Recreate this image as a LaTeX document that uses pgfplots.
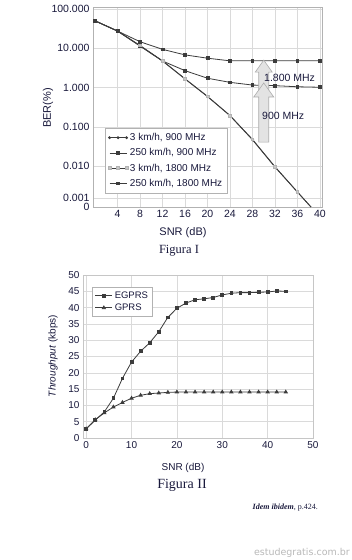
\documentclass[border=0pt]{standalone}
\usepackage{fontspec}
\setmainfont{Liberation Serif}
\setsansfont{Liberation Sans}
\newfontfamily\dejavu{DejaVu Sans}
\usepackage{pgfplots}
\pgfplotsset{compat=1.18}
\definecolor{txt}{RGB}{25,25,60}
\definecolor{ln}{RGB}{60,60,60}
\definecolor{grd}{RGB}{218,218,218}
\begin{document}
\begin{tikzpicture}[x=1pt,y=1pt]
\path[use as bounding box, fill=white] (0,0) rectangle (352,-560);

% ---------------- Figura I ----------------
\begin{axis}[at={(93pt,-207pt)}, anchor=south west, scale only axis,
  width=229pt, height=200pt,
  xmin=-0.36, xmax=40.36, ymode=log, ymin=0.000916, ymax=112.4,
  xtick={4,8,...,40},
  ytick={100,10,1,0.1,0.01,0.00155,0.000916},
  yticklabels={100.000,10.000,1.000,0.100,0.010,0.001,0},
  grid=major, major grid style={grd, line width=0.6pt},
  axis line style={gray!60}, tick style={draw=none},
  /pgf/number format/assume math mode=true,
  tick label style={font=\sffamily\fontsize{10.5}{12}\selectfont, text=txt},
  legend style={at={(0.052,0.07)}, anchor=south west, draw=gray!60, fill=white,
    font=\sffamily\fontsize{10}{11}\selectfont, text=txt, row sep=2.5pt, inner sep=3pt},
  legend cell align=left,
  clip=true]
\addplot[ln, line width=0.8pt, mark=*, mark size=1pt, mark indices={1,2,3,4,5,6,7,8,9,10}] coordinates {
 (0,50) (4,27.5) (8,11.6) (12,4.75) (16,1.66) (20,0.59) (24,0.193) (28,0.047) (32,0.0095) (36,0.0022) (38.4,0.000916)};
\addlegendentry{3 km/h, 900 MHz}
\addplot[ln, line width=0.8pt, mark=square*, mark size=1.4pt] coordinates {
 (0,50) (4,27.5) (8,11.4) (12,4.75) (16,2.7) (20,1.73) (24,1.36) (28,1.16) (32,1.12) (36,1.05) (40,1.02)};
\addlegendentry{250 km/h, 900 MHz}
\addplot[ln, line width=0.8pt, mark=square*, mark size=1.4pt, mark options={fill=gray!45, draw=gray!60}, mark indices={1,2,3,4,5,6,7,8,9,10}] coordinates {
 (0,50) (4,27.5) (8,11.8) (12,4.8) (16,1.68) (20,0.6) (24,0.195) (28,0.048) (32,0.0097) (36,0.0022) (38.4,0.000916)};
\addlegendentry{3 km/h, 1800 MHz}
\addplot[ln, line width=0.8pt, mark=square*, mark size=1.4pt] coordinates {
 (0,50) (4,27.5) (8,14.7) (12,9.4) (16,6.8) (20,5.6) (24,4.8) (28,4.8) (32,4.8) (36,4.8) (40,4.8)};
\addlegendentry{250 km/h, 1800 MHz}
% arrows
\filldraw[fill=gray!22, draw=gray!65, line width=0.6pt]
  (axis cs:30,5) -- ([xshift=8.5pt,yshift=-12pt]axis cs:30,5) -- ([xshift=5pt,yshift=-12pt]axis cs:30,5)
  -- ([xshift=5pt]axis cs:30,0.58) -- ([xshift=-5pt]axis cs:30,0.58)
  -- ([xshift=-5pt,yshift=-12pt]axis cs:30,5) -- ([xshift=-8.5pt,yshift=-12pt]axis cs:30,5) -- cycle;
\filldraw[fill=gray!22, draw=gray!65, line width=0.6pt]
  (axis cs:30,1.31) -- ([xshift=10pt,yshift=-14pt]axis cs:30,1.31) -- ([xshift=5pt,yshift=-14pt]axis cs:30,1.31)
  -- ([xshift=5pt]axis cs:30,0.041) -- ([xshift=-5pt]axis cs:30,0.041)
  -- ([xshift=-5pt,yshift=-14pt]axis cs:30,1.31) -- ([xshift=-10pt,yshift=-14pt]axis cs:30,1.31) -- cycle;
\end{axis}
\node[anchor=west, font=\sffamily\fontsize{10.5}{12}\selectfont, text=txt, inner sep=0] at (264,-77.5) {1.800 MHz};
\node[anchor=west, font=\sffamily\fontsize{10.5}{12}\selectfont, text=txt, inner sep=0] at (262,-115.5) {900 MHz};
\node[rotate=90, font=\sffamily\fontsize{11}{12}\selectfont, text=txt] at (48,-108) {BER(\%)};
\node[font=\sffamily\fontsize{11}{12}\selectfont, text=txt] at (183,-233) {SNR (dB)};
\node[font=\fontsize{12.5}{14}\selectfont, text=txt] at (179,-251) {Figura I};

% ---------------- Figura II ----------------
\begin{axis}[at={(83pt,-438pt)}, anchor=south west, scale only axis,
  width=230pt, height=163pt,
  xmin=-0.7, xmax=50, ymin=0, ymax=50,
  xtick={0,10,...,50}, ytick={0,5,...,50},
  grid=major, major grid style={grd, line width=0.6pt},
  axis line style={gray!45}, tick style={draw=none},
  /pgf/number format/assume math mode=true,
  tick label style={font=\sffamily\fontsize{10}{12}\selectfont, text=txt},
  legend style={at={(0.04,0.927)}, anchor=north west, draw=gray!60, fill=white,
    font=\sffamily\fontsize{9.5}{10}\selectfont, text=txt, row sep=0pt, inner sep=2.5pt},
  legend cell align=left]
\addplot[ln, line width=0.8pt, mark=square*, mark size=1.4pt] coordinates {
 (0,2.8) (2,5.5) (4,8) (6,12.2) (8,18.3) (10,23.3) (12,26.6) (14,29.2) (16,32.6) (18,37)
 (20,39.8) (22,41.4) (24,42.4) (26,42.7) (28,43.1) (30,43.9) (32,44.4) (34,44.6) (36,44.6)
 (38,44.7) (40,44.8) (42,45.1) (44,45.0)};
\addlegendentry{EGPRS}
\addplot[ln, line width=0.8pt, mark=triangle*, mark size=1.8pt] coordinates {
 (0,2.8) (2,5.6) (4,7.7) (6,9.5) (8,10.9) (10,12.2) (12,13.1) (14,13.6) (16,13.8) (18,14)
 (20,14.1) (22,14.1) (24,14.1) (26,14.1) (28,14.1) (30,14.1) (32,14.1) (34,14.1) (36,14.1)
 (38,14.1) (40,14.1) (42,14.1) (44,14.1)};
\addlegendentry{GPRS}
\end{axis}
\node[rotate=90, font=\sffamily\fontsize{10}{12}\selectfont, text=txt] at (53,-356) {\textit{Throughput} (kbps)};
\node[font=\sffamily\fontsize{10}{12}\selectfont, text=txt] at (183,-468) {SNR (dB)};
\node[font=\fontsize{14}{16}\selectfont, text=txt] at (182,-485) {Figura II};
\node[anchor=east, font=\fontsize{8}{9}\selectfont, text=txt, inner sep=0] at (318,-508) {\textbf{\textit{Idem ibidem}}, p.424.};
\node[anchor=east, font=\dejavu\fontsize{9.5}{11}\selectfont, text=gray!55, inner sep=0] at (350,-553) {estudegratis.com.br};
\end{tikzpicture}
\end{document}
